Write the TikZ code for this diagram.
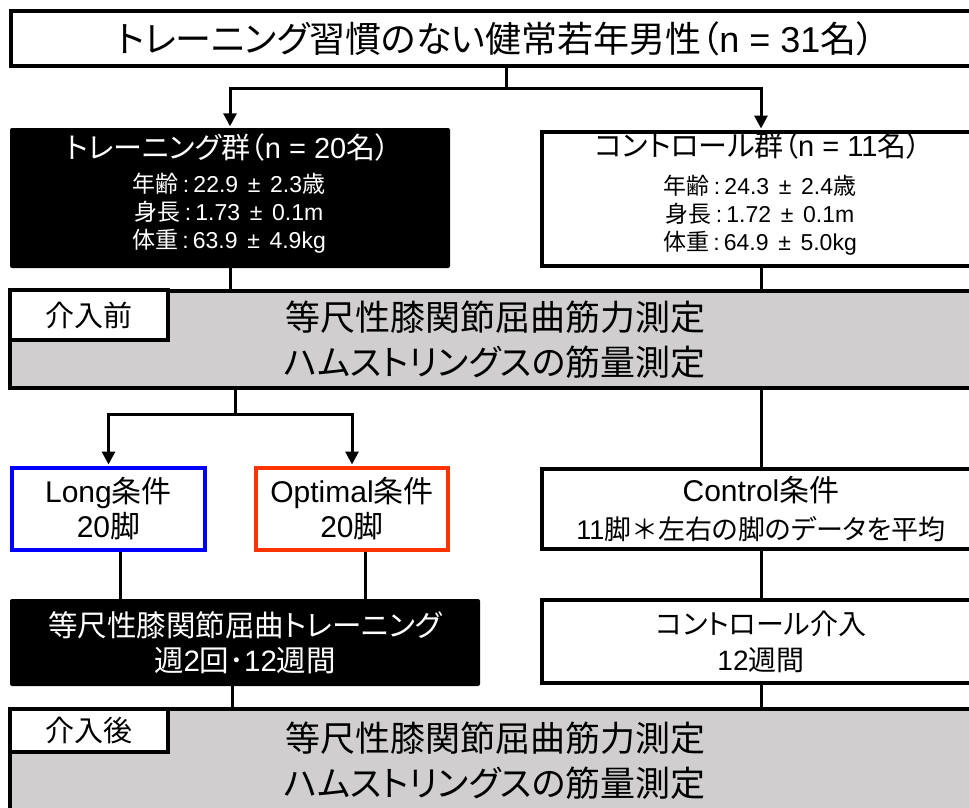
\documentclass[tikz,border=0pt]{standalone}
\usepackage{fontspec}
\setmainfont{Liberation Sans}
\newfontfamily\jpf[RawFeature=+palt]{Noto Sans CJK JP}
\newfontfamily\jpfull{Noto Sans CJK JP}
\newcommand{\J}[1]{{\jpf #1}}
\newcommand{\pmgap}{\hspace{0.42em}±\hspace{0.42em}}
\newcommand{\colgap}{\hspace{0.18em}:\hspace{0.18em}}
\usetikzlibrary{arrows.meta}
\definecolor{boxgray}{RGB}{208,206,207}
\definecolor{longblue}{RGB}{0,0,255}
\definecolor{optred}{RGB}{255,51,0}
\begin{document}
\begin{tikzpicture}[x=1pt,y=-1pt,
  wbox/.style={draw=black, line width=4pt, fill=white, inner sep=0pt, align=center},
  bbox/.style={fill=black, rounded corners=2pt, inner sep=0pt, text=white, align=center},
  gbox/.style={draw=black, line width=3.5pt, fill=boxgray, inner sep=0pt, align=center},
  txt/.style={inner sep=0pt, text height=0.8em, text depth=0.12em},
  conn/.style={line width=3pt},
  arr/.style={conn, -{Triangle[width=13pt,length=13pt]}, shorten >=1.5pt},
  ]
\useasboundingbox (0,0) rectangle (969,807);
\clip (0,0) rectangle (969,807);

% top
\node[wbox, minimum width=969pt, minimum height=55pt, font=\fontsize{36}{36}\selectfont] (top) at (495.5,38.5)
  {\J{トレーニング習慣のない健常若年男性（}n = 31\J{名）}};

% groups
\node[bbox, minimum width=440pt, minimum height=140pt] (tg) at (230,198) {};
\node[txt, text=white, font=\fontsize{29}{29}\selectfont] (tgA) at (228,155) {\J{トレーニング群（}n = 20\J{名）}};
\node[txt, text=white, font=\fontsize{23}{23}\selectfont] (tgB) at (229,189) {\J{年齢}\colgap 22.9\pmgap 2.3\J{歳}};
\node[txt, text=white, font=\fontsize{23}{23}\selectfont] (tgC) at (229,217) {\J{身長}\colgap 1.73\pmgap 0.1m};
\node[txt, text=white, font=\fontsize{23}{23}\selectfont] (tgD) at (229,245) {\J{体重}\colgap 63.9\pmgap 4.9kg};

\node[wbox, minimum width=438pt, minimum height=134pt] (cg) at (761,199) {};
\node[txt, font=\fontsize{29}{29}\selectfont] (cgA) at (758,153) {\J{コントロール群（}n = 11\J{名）}};
\node[txt, font=\fontsize{23}{23}\selectfont] (cgB) at (760,191) {\J{年齢}\colgap 24.3\pmgap 2.4\J{歳}};
\node[txt, font=\fontsize{23}{23}\selectfont] (cgC) at (760,219) {\J{身長}\colgap 1.72\pmgap 0.1m};
\node[txt, font=\fontsize{23}{23}\selectfont] (cgD) at (760,247) {\J{体重}\colgap 64.9\pmgap 5.0kg};

% pre measurement
\node[gbox, minimum width=970pt, minimum height=97pt, font=\fontsize{35}{45}\selectfont] (pre) at (495,339.5)
  {\J{等尺性膝関節屈曲筋力測定}\\\J{ハムストリングスの筋量測定}};
\node[wbox, line width=3.5pt, minimum width=158pt, minimum height=50pt, font=\fontsize{29}{29}\selectfont] (prelab) at (89,315) {\J{介入前}};

% conditions
\node[wbox, draw=longblue, minimum width=193pt, minimum height=82pt, font=\fontsize{30}{35}\selectfont] (long) at (108.5,509)
  {Long\J{条件}\\20\J{脚}};
\node[wbox, draw=optred, minimum width=192pt, minimum height=82pt, font=\fontsize{30}{35}\selectfont] (opt) at (352,509)
  {Optimal\J{条件}\\20\J{脚}};
\node[wbox, minimum width=438pt, minimum height=80pt, font=\fontsize{30}{38}\selectfont] (cc) at (761,509)
  {Control\J{条件}\\{\fontsize{27}{38}\selectfont 11\J{脚}{\jpfull ＊}\J{左右の脚のデータを平均}}};

% interventions
\node[bbox, minimum width=470pt, minimum height=87pt, font=\fontsize{29.5}{35}\selectfont] (tt) at (245,642.5)
  {\J{等尺性膝関節屈曲トレーニング}\\\J{週}2\J{回}{\jpfull ･}12\J{週間}};
\node[wbox, minimum width=438pt, minimum height=83pt, font=\fontsize{28}{36}\selectfont] (ci) at (761,641.5)
  {\J{コントロール介入}\\12\J{週間}};

% post measurement
\node[gbox, minimum width=970pt, minimum height=104pt, font=\fontsize{35}{45}\selectfont] (post) at (495,761)
  {\J{等尺性膝関節屈曲筋力測定}\\\J{ハムストリングスの筋量測定}};
\node[wbox, line width=3.5pt, minimum width=158pt, minimum height=43pt, font=\fontsize{29}{29}\selectfont] (postlab) at (89,730.5) {\J{介入後}};

% connectors
\coordinate (j1) at (506,88);
\draw[conn] (top.south -| j1) -- (j1);
\draw[arr] (j1) -| (tg.north);
\draw[arr] (j1) -| (cg.north);
\draw[conn] (tg.south) -- (tg.south |- pre.north);
\draw[conn] (cg.south) -- (cg.south |- pre.north);

\coordinate (j2) at (235,414);
\draw[conn] (pre.south -| j2) -- (j2);
\draw[arr] (j2) -| (long.north);
\draw[arr] (j2) -| (opt.north);
\draw[conn] (pre.south -| cc.north) -- (cc.north);

\coordinate (lx) at (120,0);
\coordinate (ox) at (365,0);
\coordinate (px) at (232,0);
\draw[conn] (long.south -| lx) -- (tt.north -| lx);
\draw[conn] (opt.south -| ox) -- (tt.north -| ox);
\draw[conn] (cc.south) -- (ci.north);
\draw[conn] (tt.south -| px) -- (post.north -| px);
\draw[conn] (ci.south) -- (ci.south |- post.north);
\end{tikzpicture}
\end{document}
